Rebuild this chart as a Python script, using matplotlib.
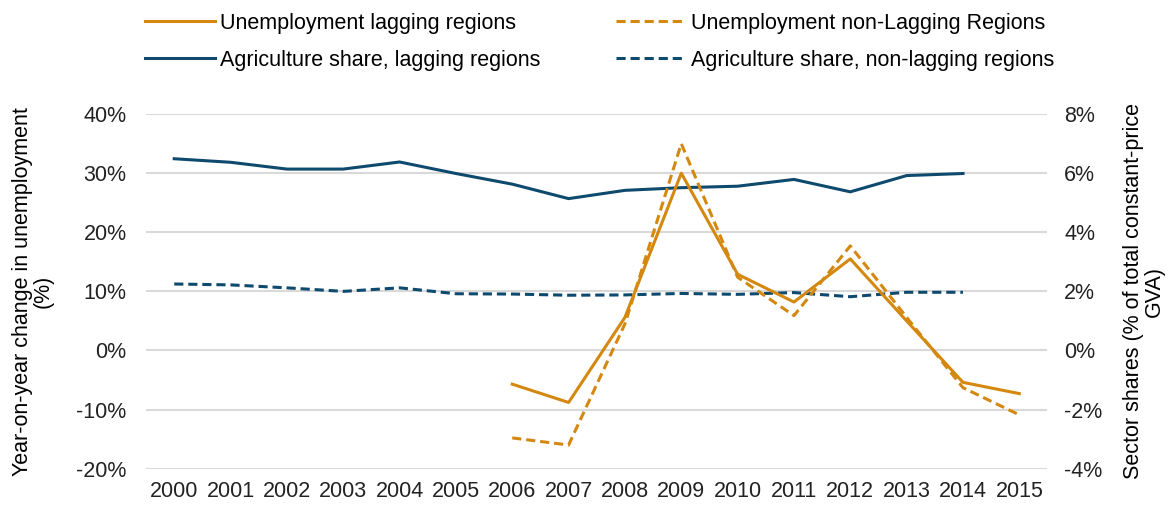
import matplotlib.pyplot as plt
from matplotlib.ticker import FuncFormatter

plt.rcParams['font.family'] = ['Liberation Sans', 'DejaVu Sans']

years = [str(y) for y in range(2000, 2016)]

# unemployment, year-on-year change (%), starts in 2006
unemp_years = years[6:]
unemp_lagging = [-5.7, -8.8, 5.6, 30.0, 12.9, 8.2, 15.5, 5.0, -5.4, -7.3]
unemp_non_lagging = [-14.8, -16.0, 4.5, 35.0, 12.4, 5.9, 17.7, 5.6, -6.3, -10.9]

# agriculture share of GVA (%), 2000-2014
agri_years = years[:15]
agri_lagging = [6.49, 6.37, 6.14, 6.14, 6.38, 5.99, 5.63, 5.14, 5.42, 5.51,
                5.56, 5.79, 5.37, 5.92, 5.99]
agri_non_lagging = [2.25, 2.22, 2.12, 2.00, 2.12, 1.92, 1.91, 1.87, 1.88, 1.93,
                    1.90, 1.96, 1.82, 1.97, 1.97]

orange = '#D4880F'
navy = '#0E4A6E'
fs = 15.5

fig = plt.figure(figsize=(11.73, 5.05), dpi=100)
ax = fig.add_axes([0.1245, 0.072, 0.7685, 0.702])
ax2 = ax.twinx()

xi = {y: i for i, y in enumerate(years)}

l1, = ax.plot([xi[y] for y in unemp_years], unemp_lagging, color=orange, lw=2.2,
              label='Unemployment lagging regions')
l2, = ax.plot([xi[y] for y in unemp_years], unemp_non_lagging, color=orange, lw=2.2,
              ls=(0, (3, 1.6)), label='Unemployment non-Lagging Regions')
l3, = ax2.plot([xi[y] for y in agri_years], agri_lagging, color=navy, lw=2.2,
               label='Agriculture share, lagging regions')
l4, = ax2.plot([xi[y] for y in agri_years], agri_non_lagging, color=navy, lw=2.2,
               ls=(0, (3, 1.6)), label='Agriculture share, non-lagging regions')

ax.set_zorder(ax2.get_zorder() + 1)
ax.patch.set_visible(False)

ax.set_xlim(-0.5, 15.5)
ax.set_ylim(-20, 40)
ax2.set_ylim(-4, 8)
ax.set_yticks(range(-20, 41, 10))
ax2.set_yticks(range(-4, 9, 2))
ax.yaxis.set_major_formatter(FuncFormatter(lambda v, p: f'{v:.0f}%'))
ax2.yaxis.set_major_formatter(FuncFormatter(lambda v, p: f'{v:.0f}%'))
ax.set_xticks(range(len(years)))
ax.set_xticklabels(years)

ax2.grid(axis='y', color='#D9D9D9', lw=1.5)
ax2.set_axisbelow(True)

for a in (ax, ax2):
    for s in a.spines.values():
        s.set_visible(False)
    a.tick_params(length=0, labelsize=fs, colors='#222222')
ax.tick_params(axis='y', pad=14)
ax2.tick_params(axis='y', pad=12)
ax.tick_params(axis='x', pad=9)

ax.set_ylabel('Year-on-year change in unemployment\n(%)', fontsize=fs, labelpad=16,
              linespacing=1.0)
ax2.set_ylabel('Sector shares (% of total constant-price\nGVA)', fontsize=fs,
               labelpad=15, linespacing=1.0)

fig.legend(handles=[l1, l3, l2, l4], ncol=2, frameon=False, fontsize=fs,
           loc='upper left', bbox_to_anchor=(145 / 1173, 0.975), borderpad=0,
           borderaxespad=0, handlelength=3.25, handletextpad=0.25,
           columnspacing=3.5, labelspacing=0.75)

fig.savefig('out.png', dpi=100)
